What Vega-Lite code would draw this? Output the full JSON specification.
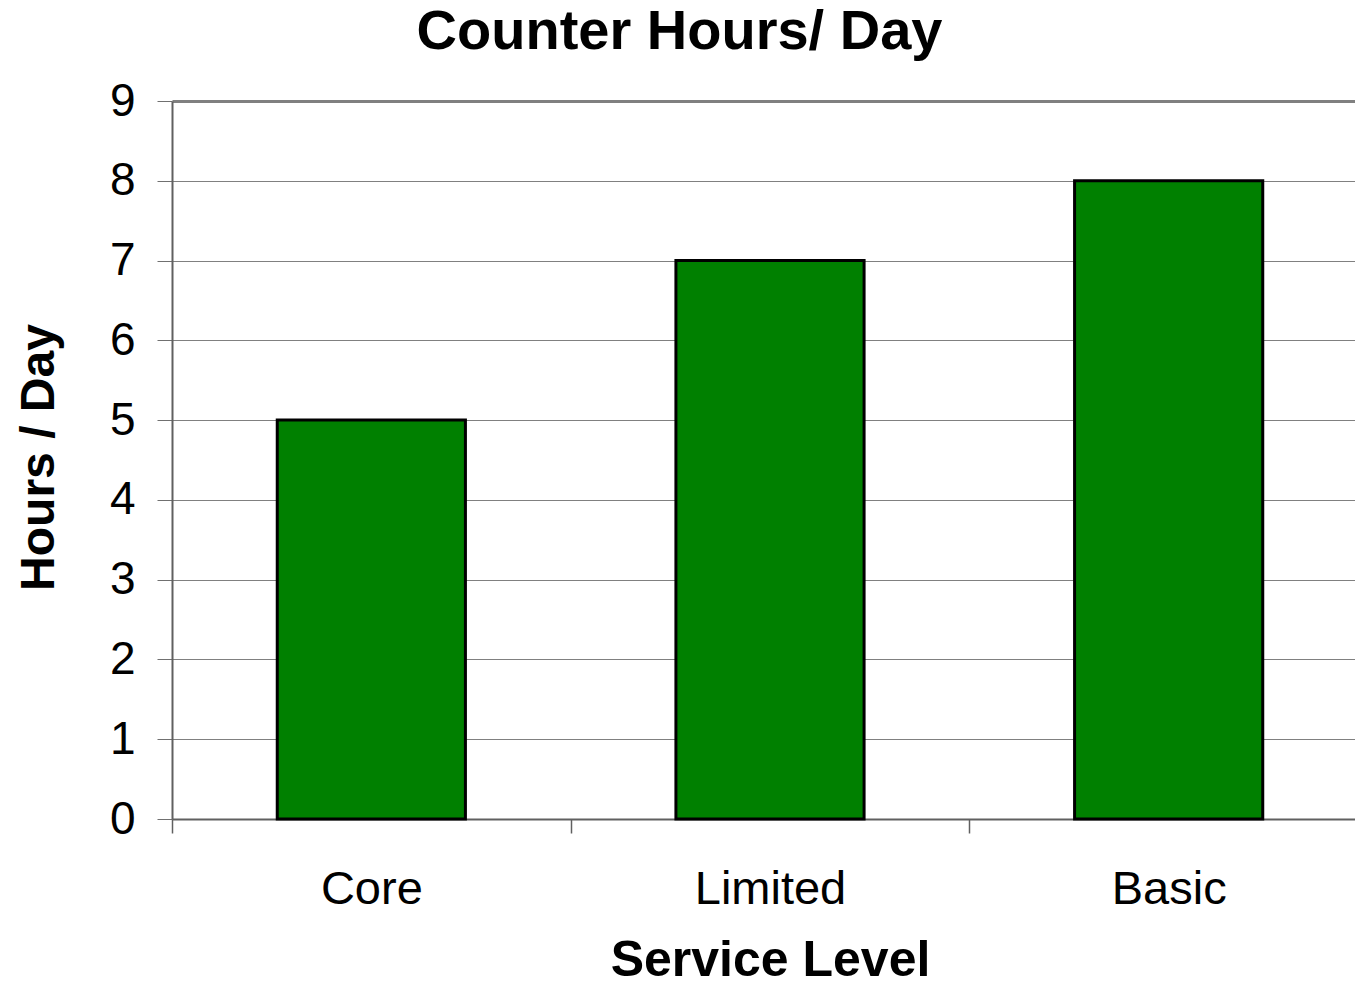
{
  "$schema": "https://vega.github.io/schema/vega-lite/v6.json",
  "autosize": "none",
  "width": 1183,
  "height": 718,
  "padding": {"left": 172, "top": 101, "right": 0, "bottom": 162},
  "background": "white",
  "config": {"view": {"stroke": null}, "font": "Liberation Sans"},
  "title": {
    "text": "Counter Hours/ Day",
    "font": "Liberation Sans",
    "fontSize": 56,
    "fontWeight": "bold",
    "color": "black",
    "anchor": "middle",
    "frame": "group",
    "baseline": "alphabetic",
    "dx": -84,
    "dy": 47,
    "offset": 20
  },
  "data": {
    "values": [
      {"level": "Core", "hours": 5},
      {"level": "Limited", "hours": 7},
      {"level": "Basic", "hours": 8}
    ]
  },
  "mark": {"type": "bar", "fill": "#008000", "stroke": "black", "strokeWidth": 3, "width": {"band": 0.472}},
  "encoding": {
    "x": {
      "field": "level",
      "type": "nominal",
      "sort": null,
      "scale": {"range": [0, 1196], "paddingInner": 0, "paddingOuter": 0},
      "axis": {
        "title": "Service Level",
        "titleFont": "Liberation Sans",
        "titleFontSize": 50,
        "titleFontWeight": "bold",
        "titleColor": "black",
        "titleAnchor": "middle",
        "titleBaseline": "alphabetic",
        "titleX": 598,
        "titleY": 156,
        "labelAngle": 0,
        "labelFont": "Liberation Sans",
        "labelFontSize": 47,
        "labelColor": "black",
        "labelBaseline": "alphabetic",
        "labelPadding": 70,
        "tickBand": "extent",
        "tickSize": 14,
        "tickColor": "#606060",
        "tickWidth": 1.5,
        "domainColor": "#606060",
        "domainWidth": 2,
        "grid": false
      }
    },
    "y": {
      "field": "hours",
      "type": "quantitative",
      "scale": {"domain": [0, 9], "nice": false},
      "axis": {
        "values": [0, 1, 2, 3, 4, 5, 6, 7, 8, 9],
        "title": "Hours / Day",
        "titleFont": "Liberation Sans",
        "titleFontSize": 48,
        "titleFontWeight": "bold",
        "titleColor": "black",
        "titleAngle": -90,
        "titleAlign": "center",
        "titleBaseline": "alphabetic",
        "titleX": -119,
        "titleY": 356,
        "labelFont": "Liberation Sans",
        "labelFontSize": 46,
        "labelColor": "black",
        "labelPadding": 22,
        "tickSize": 15,
        "tickColor": "#707070",
        "tickWidth": 1,
        "domainColor": "#606060",
        "domainWidth": 2,
        "grid": true,
        "gridColor": "#808080",
        "gridWidth": {"condition": {"test": "datum.value == 9", "value": 3}, "value": 1},
        "gridOpacity": 1
      }
    }
  }
}
